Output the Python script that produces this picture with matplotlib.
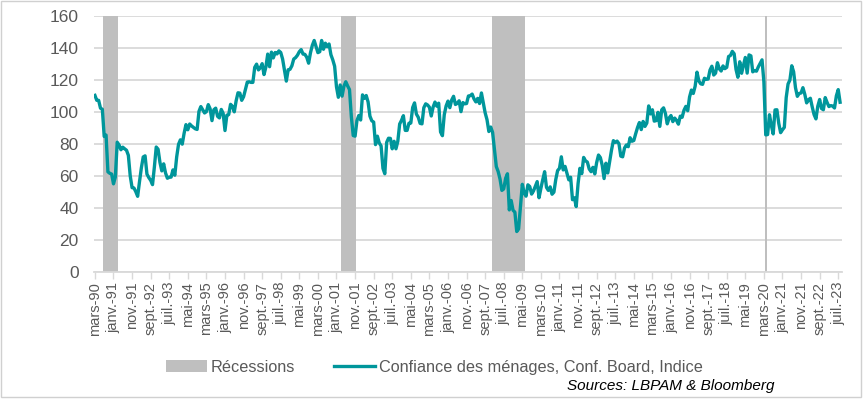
import numpy as np
import pandas as pd
import matplotlib
matplotlib.use("Agg")
import matplotlib.pyplot as plt
from matplotlib.patches import Patch, Rectangle
from matplotlib.lines import Line2D

plt.rcParams['font.family'] = ['Liberation Sans', 'DejaVu Sans']

# Conference Board consumer confidence, monthly values (Mar 1990 -> Aug 2023)
y1990 = [110.4, 107.3, 107.3, 102.4, 101.7, 84.7, 85.6, 62.6, 61.7, 61.2]
y1991 = [55.1, 59.4, 81.1, 79.4, 76.4, 78.0, 77.0, 76.1, 72.9, 60.1, 52.7, 52.5]
y1992 = [50.2, 47.3, 56.5, 65.1, 71.9, 72.6, 61.2, 59.0, 57.3, 54.6, 65.6, 78.1]
y1993 = [76.7, 68.5, 63.2, 67.6, 61.9, 58.6, 59.2, 59.3, 63.8, 60.5, 71.9, 79.8]
y1994 = [82.6, 79.9, 86.7, 92.1, 88.9, 92.5, 91.3, 90.4, 89.5, 89.1, 100.4, 103.4]
y1995 = [101.4, 99.4, 100.2, 104.6, 102.0, 94.6, 101.4, 102.4, 97.3, 96.3, 101.6, 99.2]
y1996 = [88.4, 98.0, 98.4, 104.8, 103.5, 100.1, 107.0, 112.0, 111.8, 107.3, 109.5, 114.2]
y1997 = [118.7, 118.9, 118.5, 118.5, 127.9, 129.9, 126.3, 127.6, 130.2, 123.4, 128.1, 136.2]
y1998 = [128.3, 137.4, 133.8, 137.2, 136.3, 138.2, 137.2, 133.1, 126.4, 119.3, 126.4, 126.7]
y1999 = [128.9, 133.1, 134.0, 135.5, 137.7, 139.0, 136.2, 136.0, 134.2, 130.5, 137.0, 141.7]
y2000 = [144.7, 140.8, 137.1, 137.7, 144.7, 139.2, 143.0, 140.8, 142.5, 135.8, 132.6, 128.6]
y2001 = [115.7, 109.2, 116.9, 109.9, 116.1, 118.9, 116.3, 114.0, 97.0, 85.3, 84.9, 94.6]
y2002 = [97.8, 95.0, 110.7, 108.5, 110.3, 106.3, 97.4, 94.5, 93.7, 79.6, 84.9, 80.7]
y2003 = [78.8, 64.8, 61.4, 81.0, 83.6, 83.5, 77.0, 81.7, 77.0, 81.7, 92.5, 94.8]
y2004 = [97.7, 88.5, 88.5, 93.0, 93.1, 102.8, 105.7, 98.7, 96.7, 92.9, 92.6, 102.7]
y2005 = [105.1, 104.4, 103.0, 97.5, 103.1, 106.2, 103.6, 105.5, 87.5, 85.2, 98.3, 103.8]
y2006 = [106.8, 102.7, 107.5, 109.8, 104.7, 105.4, 107.0, 100.2, 105.9, 105.1, 105.3, 110.0]
y2007 = [110.2, 111.2, 108.2, 106.3, 108.5, 105.3, 111.9, 105.6, 99.5, 95.2, 87.8, 90.6]
y2008 = [87.3, 76.4, 65.9, 62.8, 58.1, 51.0, 51.9, 58.5, 61.4, 38.8, 44.7, 38.6]
y2009 = [37.4, 25.3, 26.9, 40.8, 54.8, 49.3, 47.4, 54.5, 53.4, 48.7, 50.6, 53.6]
y2010 = [56.5, 46.4, 52.3, 57.7, 62.7, 52.9, 51.0, 53.2, 48.6, 49.9, 57.8, 63.4]
y2011 = [64.8, 72.0, 63.8, 66.0, 61.7, 57.6, 59.2, 45.2, 46.4, 40.9, 55.2, 64.8]
y2012 = [61.5, 71.6, 69.5, 68.7, 64.4, 62.7, 65.4, 61.3, 68.4, 73.1, 71.5, 66.7]
y2013 = [58.4, 68.0, 61.9, 69.0, 76.2, 82.1, 81.0, 81.8, 80.2, 72.4, 72.0, 77.5]
y2014 = [79.4, 78.3, 83.9, 81.7, 82.2, 86.4, 90.3, 93.4, 89.0, 94.1, 91.0, 93.1]
y2015 = [103.8, 98.8, 101.4, 94.3, 94.6, 99.8, 91.0, 101.3, 102.6, 99.1, 92.6, 96.3]
y2016 = [97.8, 94.0, 96.2, 94.7, 92.4, 97.4, 96.7, 101.1, 103.5, 100.8, 109.4, 113.7]
y2017 = [111.6, 116.1, 124.9, 119.4, 117.6, 117.3, 121.1, 120.4, 120.6, 126.2, 128.6, 123.1]
y2018 = [124.3, 130.8, 127.0, 125.6, 128.8, 127.1, 127.9, 134.7, 135.3, 137.9, 136.4, 126.6]
y2019 = [121.7, 131.4, 124.2, 129.2, 134.1, 124.3, 135.7, 135.1, 125.1, 125.9, 125.5, 128.2]
y2020 = [130.4, 132.6, 118.8, 85.7, 85.9, 98.3, 91.7, 86.3, 101.3, 101.4, 92.9, 87.1]
y2021 = [88.9, 90.4, 109.0, 117.5, 120.0, 128.9, 125.1, 115.2, 109.8, 111.6, 111.9, 115.2]
y2022 = [111.1, 105.7, 107.6, 108.6, 103.2, 98.4, 95.7, 103.6, 107.8, 102.2, 101.4, 109.0]
y2023 = [106.0, 103.4, 104.0, 103.7, 102.5, 110.1, 114.0, 106.1]

confidence = (y1990 + y1991 + y1992 + y1993 + y1994 + y1995 + y1996 + y1997 + y1998
              + y1999 + y2000 + y2001 + y2002 + y2003 + y2004 + y2005 + y2006 + y2007
              + y2008 + y2009 + y2010 + y2011 + y2012 + y2013 + y2014 + y2015 + y2016
              + y2017 + y2018 + y2019 + y2020 + y2021 + y2022 + y2023)

months = pd.period_range("1990-03", periods=len(confidence), freq="M")

# recession periods (start, end)
recession_start = ["1990-08", "2001-04", "2008-01", "2020-04"]
recession_end = ["1991-03", "2001-11", "2009-06", "2020-04"]

recession = np.zeros(len(months))
for s, e in zip(recession_start, recession_end):
    mask = (months >= pd.Period(s, "M")) & (months <= pd.Period(e, "M"))
    recession[mask] = 160

tick_labels = ["mars-90", "janv.-91", "nov.-91", "sept.-92", "juil.-93", "mai-94",
               "mars-95", "janv.-96", "nov.-96", "sept.-97", "juil.-98", "mai-99",
               "mars-00", "janv.-01", "nov.-01", "sept.-02", "juil.-03", "mai-04",
               "mars-05", "janv.-06", "nov.-06", "sept.-07", "juil.-08", "mai-09",
               "mars-10", "janv.-11", "nov.-11", "sept.-12", "juil.-13", "mai-14",
               "mars-15", "janv.-16", "nov.-16", "sept.-17", "juil.-18", "mai-19",
               "mars-20", "janv.-21", "nov.-21", "sept.-22", "juil.-23"]

teal = "#00969B"
grey_bar = "#BFBFBF"
txt = "#595959"

fig = plt.figure(figsize=(8.63, 3.99), dpi=100)
ax = fig.add_axes([0.1089, 0.3183, 0.8667, 0.6416])

x = np.arange(len(confidence))
ax.bar(x, recession, width=1.0, color=grey_bar, linewidth=0, zorder=2)
ax.plot(x, confidence, color=teal, lw=2.4, zorder=3, solid_joinstyle="round")

ax.set_ylim(0, 160)
ax.set_xlim(-0.5, 402)
ax.set_yticks(np.arange(0, 161, 20))
ax.yaxis.grid(True, color="#D9D9D9", lw=1.3, zorder=0)
ax.set_axisbelow(True)
ax.tick_params(axis="y", length=0, labelsize=12.5, labelcolor=txt, pad=11)

ax.set_xticks(np.arange(0, len(confidence), 10))
ax.set_xticklabels(tick_labels, rotation=90, fontsize=10.5, color=txt)
ax.tick_params(axis="x", length=5, color="#D9D9D9", width=1, pad=2)

for side in ["top", "right", "left"]:
    ax.spines[side].set_visible(False)
ax.spines["bottom"].set_color("#D9D9D9")
ax.spines["bottom"].set_linewidth(1.3)

handles = [Patch(facecolor=grey_bar, edgecolor="none", label="Récessions"),
           Line2D([0], [0], color=teal, lw=2.4, label="Confiance des ménages, Conf. Board, Indice")]
fig.legend(handles=handles, loc="center", bbox_to_anchor=(0.5035, 0.079), ncol=2,
           frameon=False, fontsize=11.7, labelcolor=txt, handlelength=2.5,
           handleheight=0.74, columnspacing=2.4, handletextpad=0.25)

fig.text(0.898, 0.033, "Sources: LBPAM & Bloomberg", ha="right", va="center",
         fontsize=11, style="italic", color="black")

fig.patches.append(Rectangle((0.001, 0.006), 0.997, 0.991, transform=fig.transFigure,
                             fill=False, edgecolor="#D0D0D0", lw=1))

fig.savefig("out.png", dpi=100)
